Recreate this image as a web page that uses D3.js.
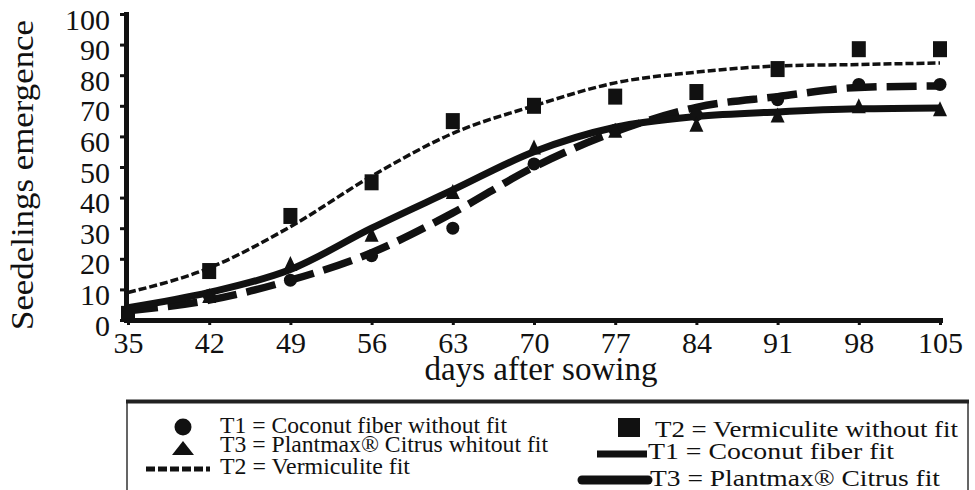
<!DOCTYPE html>
<html>
<head>
<meta charset="utf-8">
<script src="https://cdn.jsdelivr.net/npm/d3@7"></script>
<style>
  body { margin: 0; background: #fff; }
  svg text { font-family: "Liberation Serif", "Times New Roman", Times, "DejaVu Serif", serif !important; }
</style>
</head>
<body>
<svg id="chart" width="975" height="490"></svg>
<script>
// days after sowing
const days = [35, 42, 49, 56, 63, 70, 77, 84, 91, 98, 105];
const yTicks = [0, 10, 20, 30, 40, 50, 60, 70, 80, 90, 100];

// observed emergence (without fit)
const t1Obs = [2, 8, 13, 21, 30, 51, 62, 67, 72, 77, 77];
const t2Obs = [2, 16, 34, 45, 65, 70, 73, 74.5, 82, 88.5, 88.5];
const t3Obs = [3, 8, 18.5, 28, 42, 56.5, 62, 64, 67, 70, 69];

// fitted curves, read at each day
const t1Fit = [3, 6.5, 13, 22, 35, 50, 61.5, 69.5, 73, 76, 76.5];
const t2Fit = [9, 17, 30.5, 47, 61, 70, 77.5, 81, 83, 83.5, 84];
const t3Fit = [4, 9, 16.5, 30, 42.5, 55, 63, 66.5, 68, 69, 69.3];

const legendLeft = [
  "T1 = Coconut fiber without fit",
  "T3 = Plantmax® Citrus whitout fit",
  "T2 = Vermiculite fit"
];
const legendRight = [
  "T2 = Vermiculite without fit",
  "T1 = Coconut fiber fit",
  "T3 = Plantmax® Citrus fit"
];

const svg = d3.select("#chart");

const x = d3.scaleLinear().domain([35, 105]).range([128, 940]);
const y = d3.scaleLinear().domain([0, 100]).range([320, 14]);

// axes
const yAxis = svg.append("g")
  .attr("transform", "translate(126,0)")
  .call(d3.axisLeft(y).tickValues(yTicks).tickSize(6).tickSizeOuter(0).tickPadding(10));
yAxis.attr("font-family", null);
yAxis.select(".domain").attr("stroke", "#111").attr("stroke-width", 5).attr("stroke-linecap", "square");
yAxis.selectAll(".tick line").attr("stroke", "#111").attr("stroke-width", 3);
yAxis.selectAll(".tick text")
  .attr("font-size", 30).attr("fill", "#111")
  .attr("dy", "0.5em");

const xAxis = svg.append("g")
  .attr("transform", "translate(0,320)")
  .call(d3.axisBottom(x).tickValues(days).tickSize(5).tickSizeOuter(0).tickPadding(7));
xAxis.attr("font-family", null);
xAxis.select(".domain").attr("stroke", "#111").attr("stroke-width", 5).attr("stroke-linecap", "square");
xAxis.selectAll(".tick line").attr("stroke", "#111").attr("stroke-width", 3);
xAxis.selectAll(".tick text")
  .attr("font-size", 30).attr("fill", "#111");

// axis titles
svg.append("text")
  .attr("transform", "translate(33,175) rotate(-90)")
  .attr("text-anchor", "middle")
  .attr("font-size", 32)
  .attr("textLength", 310)
  .attr("lengthAdjust", "spacingAndGlyphs")
  .attr("fill", "#111")
  .text("Seedelings emergence");

svg.append("text")
  .attr("x", 541).attr("y", 380)
  .attr("text-anchor", "middle")
  .attr("font-size", 33)
  .attr("textLength", 233)
  .attr("lengthAdjust", "spacingAndGlyphs")
  .attr("fill", "#111")
  .text("days after sowing");

// fitted lines
const line = d3.line()
  .x((d, i) => x(days[i]))
  .y(d => y(d))
  .curve(d3.curveMonotoneX);

svg.append("path").datum(t2Fit)
  .attr("d", line).attr("fill", "none")
  .attr("stroke", "#111").attr("stroke-width", 3.5)
  .attr("stroke-dasharray", "8,3");

svg.append("path").datum(t1Fit)
  .attr("d", line).attr("fill", "none")
  .attr("stroke", "#111").attr("stroke-width", 7.5)
  .attr("stroke-dasharray", "30,10");

svg.append("path").datum(t3Fit)
  .attr("d", line).attr("fill", "none")
  .attr("stroke", "#111").attr("stroke-width", 7);

// observed markers
svg.append("g").selectAll("rect").data(t2Obs).join("rect")
  .attr("x", (d, i) => x(days[i]) - 7)
  .attr("y", d => y(d) - 8)
  .attr("width", 14).attr("height", 16)
  .attr("fill", "#111");

svg.append("g").selectAll("circle").data(t1Obs).join("circle")
  .attr("cx", (d, i) => x(days[i]))
  .attr("cy", d => y(d))
  .attr("r", 6.5)
  .attr("fill", "#111");

const tri = (cx, cy, w, h) => `M${cx},${cy - h / 2}L${cx + w / 2},${cy + h / 2}L${cx - w / 2},${cy + h / 2}Z`;
svg.append("g").selectAll("path").data(t3Obs).join("path")
  .attr("d", (d, i) => tri(x(days[i]), y(d), 14, 15))
  .attr("fill", "#111");

// legend box
const lg = svg.append("g");
lg.append("rect")
  .attr("x", 127).attr("y", 402)
  .attr("width", 841).attr("height", 100)
  .attr("fill", "none").attr("stroke", "#333").attr("stroke-width", 1.5);
lg.append("line")
  .attr("x1", 126).attr("x2", 969).attr("y1", 401.5).attr("y2", 401.5)
  .attr("stroke", "#222").attr("stroke-width", 4);

// left column symbols
lg.append("circle").attr("cx", 183).attr("cy", 427).attr("r", 8.5).attr("fill", "#111");
lg.append("path").attr("d", tri(183, 448, 22, 14)).attr("fill", "#111");
lg.append("line")
  .attr("x1", 146).attr("x2", 210).attr("y1", 469).attr("y2", 469)
  .attr("stroke", "#111").attr("stroke-width", 5).attr("stroke-dasharray", "9,3");

// right column symbols
lg.append("rect").attr("x", 618).attr("y", 418).attr("width", 22).attr("height", 19).attr("fill", "#111");
lg.append("line")
  .attr("x1", 597).attr("x2", 647).attr("y1", 454).attr("y2", 454)
  .attr("stroke", "#111").attr("stroke-width", 7);
lg.append("line")
  .attr("x1", 582).attr("x2", 648).attr("y1", 480).attr("y2", 480)
  .attr("stroke", "#111").attr("stroke-width", 9).attr("stroke-linecap", "round");

// legend text layout
const leftBase = [433, 452, 474];
const leftLen = [287, 328, 190];
const rightBase = [437, 459, 486];
const rightX = [655, 648, 650];
const rightLen = [303, 246, 290];

lg.selectAll("text.l").data(legendLeft).join("text")
  .attr("class", "l")
  .attr("x", 220).attr("y", (d, i) => leftBase[i])
  .attr("font-size", 22.5).attr("fill", "#111")
  .attr("textLength", (d, i) => leftLen[i])
  .attr("lengthAdjust", "spacingAndGlyphs")
  .text(d => d);

lg.selectAll("text.r").data(legendRight).join("text")
  .attr("class", "r")
  .attr("x", (d, i) => rightX[i]).attr("y", (d, i) => rightBase[i])
  .attr("font-size", 22.5).attr("fill", "#111")
  .attr("textLength", (d, i) => rightLen[i])
  .attr("lengthAdjust", "spacingAndGlyphs")
  .text(d => d);
</script>
</body>
</html>
